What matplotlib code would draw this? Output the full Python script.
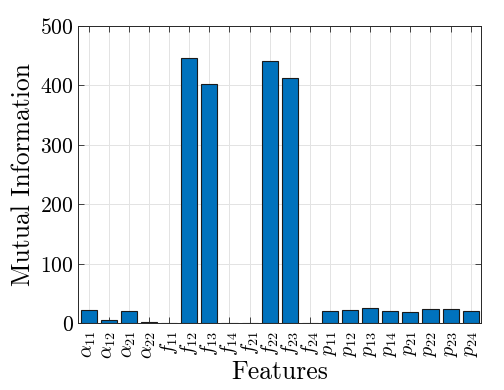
import matplotlib
matplotlib.use('Agg')
from matplotlib import pyplot as plt
import numpy as np

features = [r'$\alpha_{11}$', r'$\alpha_{12}$', r'$\alpha_{21}$', r'$\alpha_{22}$',
            r'$f_{11}$', r'$f_{12}$', r'$f_{13}$', r'$f_{14}$',
            r'$f_{21}$', r'$f_{22}$', r'$f_{23}$', r'$f_{24}$',
            r'$p_{11}$', r'$p_{12}$', r'$p_{13}$', r'$p_{14}$',
            r'$p_{21}$', r'$p_{22}$', r'$p_{23}$', r'$p_{24}$']
mutual_info = [22, 5, 21, 3,
               0, 446, 402, 0,
               0, 441, 412, 0,
               20, 23, 26, 21,
               19, 24, 24, 20]
y_ticks = [0, 100, 200, 300, 400, 500]

plt.rcParams['font.family'] = 'serif'
plt.rcParams['font.serif'] = ['cmr10']
plt.rcParams['mathtext.fontset'] = 'cm'
plt.rcParams['axes.formatter.use_mathtext'] = True

fig = plt.figure(figsize=(5.04, 3.9), dpi=100)
ax = fig.add_axes([0.155, 0.171, 0.8, 0.763])

x = np.arange(1, len(features) + 1)
ax.bar(x, mutual_info, width=0.8, color='#0072BD', edgecolor='#1a1a1a',
       linewidth=0.8, zorder=3)

ax.set_xlim(0.47, 20.53)
ax.set_ylim(0, 500)
ax.set_xticks(x)
ax.set_xticklabels(features, rotation=90, fontsize=14.5)
ax.set_yticks(y_ticks)
ax.tick_params(axis='y', labelsize=15.5, pad=3)
ax.tick_params(axis='x', pad=5)
ax.tick_params(direction='in', top=True, right=True, length=4,
               width=0.6, color='#262626')

ax.grid(True, color='#e3e3e3', linewidth=0.7, zorder=0)
ax.set_axisbelow(True)
for s in ax.spines.values():
    s.set_color('#262626')
    s.set_linewidth(0.7)

ax.set_xlabel('Features', fontsize=18.5, labelpad=1)
ax.set_ylabel('Mutual Information', fontsize=18.5, labelpad=4)

fig.savefig('out.png', dpi=100)
